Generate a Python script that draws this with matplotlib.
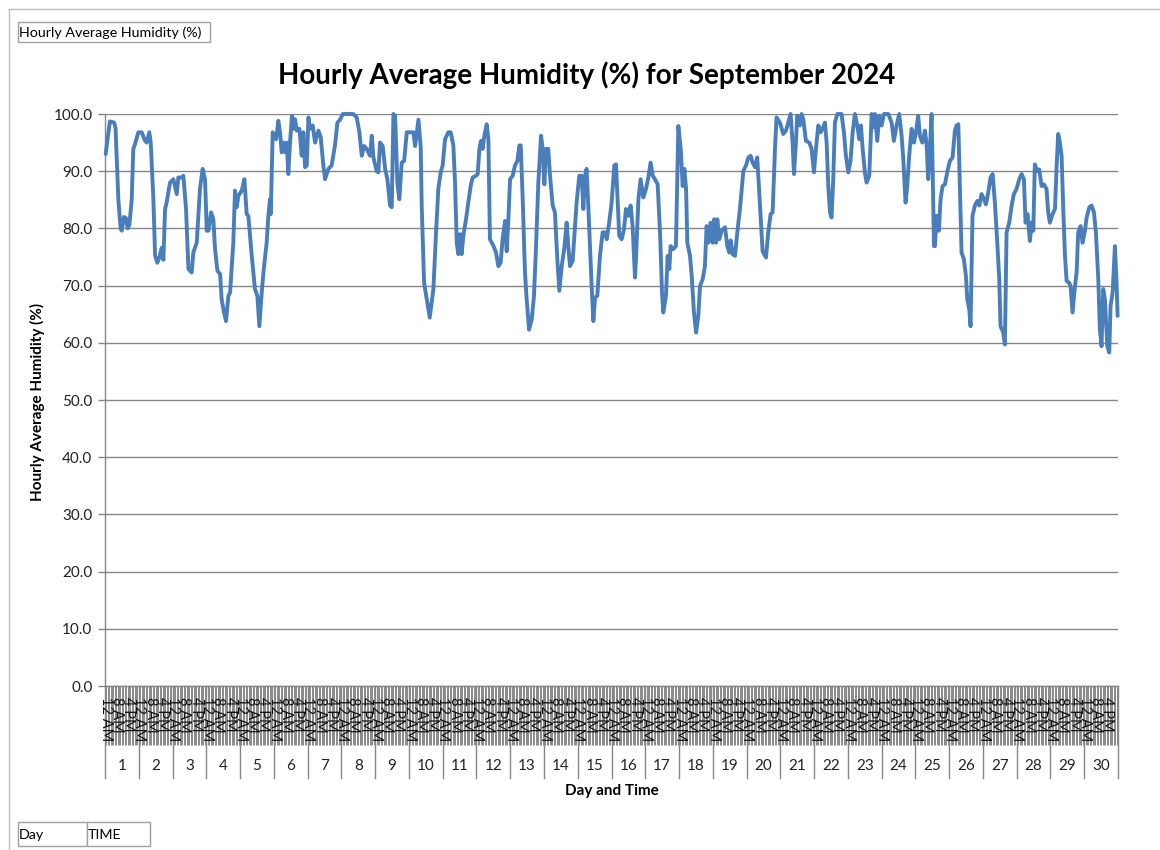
import numpy as np
import matplotlib
matplotlib.use('Agg')
import matplotlib.pyplot as plt
import matplotlib.transforms as mtransforms
from matplotlib.patches import Rectangle
from matplotlib.lines import Line2D

plt.rcParams['font.family'] = ['Lato', 'DejaVu Sans']

# ---------------- data (hour index from 1 Sep 12 AM, humidity %) ----------------
hours_days_01_10 = [0, 1.5, 3, 6, 7, 8.5, 9, 10.6, 11.4, 13, 14.4, 15.6, 16.8, 18.5, 19.6, 20.8, 23.2,
    25.6, 28, 29.1, 31, 32, 33.9, 35.1, 36.7, 38.1, 39.8, 41, 42.2, 43.3, 45.7, 48.1, 50.5, 51.6,
    54, 55.2, 57.1, 58.8, 61.1, 62.3, 64.7, 67, 68.9, 70.6, 71.8, 73, 74.9, 76.5, 77.7, 79.4,
    81.3, 82.4, 84.1, 85.5, 87.2, 88.4, 90.7, 91.9, 93.1, 94.3, 96.7, 98.6, 100.2, 101.4, 103.8,
    106.1, 107.8, 109.2, 110.9, 112.1, 114.4, 115.6, 116.8, 117.3, 118.7, 119.6, 121.1, 122.7,
    123.9, 125.1, 126.3, 127.5, 128.7, 129.8, 131, 132.4, 133.4, 134.6, 135.8, 137.7, 139.3,
    140.5, 141.7, 142.9, 144.1, 145.2, 147.1, 148.8, 151.2, 152.8, 154.7, 155.9, 158.3, 160.6,
    163, 164.7, 166.6, 168.5, 176, 178.4, 180.3, 182, 183.6, 185.5, 187.9, 189.1, 190.3, 192.6,
    193.8, 195, 196.9, 198.6, 200.2, 202.1, 203.3, 204.5, 205.7, 207.3, 208.7, 210.4, 212.1,
    214, 216.3, 218.7, 219.9, 222.3, 223.9, 224.6, 226.3, 228.2, 230.3]
humidity_days_01_10 = [93.0, 96, 98.7, 98.5, 97.5, 88, 85, 80, 79.6, 82, 81.8, 80, 80.6, 85, 93.9, 94.7, 96.8,
    96.8, 95.3, 95, 96.8, 95, 85, 75.2, 74, 74.9, 76.6, 74.5, 83.4, 84.5, 88, 88.6, 86, 88.9,
    88.9, 89.2, 83.4, 72.9, 72.3, 75.8, 77.5, 86.9, 90.4, 88.6, 79.6, 79.6, 82.8, 81.6, 76.4, 72.6,
    72, 67.6, 65.3, 63.8, 68.2, 68.8, 77.5, 86.6, 83.7, 85.7, 86.6, 88.6, 82.5, 82.2, 75.2,
    69.4, 68.2, 62.9, 68.8, 72.3, 77.5, 82.2, 85.1, 82.5, 96.8, 96.2, 95.6, 98.8,
    96.8, 93.3, 95, 93.3, 95, 89.5, 95, 99.7, 97.4, 99.1, 97.1, 97.4, 92.7,
    96.8, 90.7, 91, 99.4, 97.4, 98, 95, 97.1, 96, 91, 88.6, 90.4, 91,
    94.6, 98.5, 99, 100, 100, 99.4, 96.8, 92.7, 94.4, 93.9, 92.7, 96.2, 92.4, 90,
    89.8, 95, 94.4, 90.4, 88.6, 84, 83.7, 100, 99.7, 88, 85.1, 91.5, 91.8,
    96.8, 96.8, 96.8, 94.4, 99, 94.2, 84, 70.5, 67.6, 64.4]

hours_days_11_20 = [232.9, 234.8, 236.4, 238.1, 239.5, 241.2, 243.5, 245.2, 247.1, 248.3, 249.5, 250.6,
    251.8, 253, 254.2, 256.1, 257.7, 259.4, 260.8, 263.2, 264.4, 265.6, 266.7, 267.9, 269.1,
    270.8, 272, 273.1, 275.5, 277.4, 279.1, 280.7, 282.1, 283.8, 285, 286.2, 287.4, 289.3,
    290.9, 292.6, 294, 295, 296.4, 298, 299.2, 300.9, 302.8, 304.4, 305.8, 307.5, 309.4,
    310.6, 311.8, 313, 314.6, 315.8, 317.7, 319.3, 321, 322.4, 324.1, 326, 327.6, 328.8, 330,
    331.9, 333.6, 334.7, 336.6, 338.3, 339.5, 340.7, 341.8, 343, 344.2, 345.4, 346.6, 347.8,
    349.4, 351.3, 353.2, 354.9, 356.1, 358, 359.6, 361.5, 362.7, 363.6, 365, 366.7, 368.4,
    369.8, 371.5, 373.1, 374.5, 376.2, 376.9, 378.6, 380.2, 382.1, 384, 385.7, 387.3, 388.8,
    390.4, 392.3, 394, 395.4, 396.3, 398.2, 399.4, 400.6, 401.5, 403.4, 405.3, 407, 408.7,
    410.1, 411.3, 412.5, 413.4, 415.3, 416.5, 418.1, 419.6, 421.2, 422.4, 424.3, 425.9, 427.1,
    428.3, 429.9, 431.4, 432.4, 433.8, 434.7, 436.1, 437.8, 440.2, 441.8, 443.2, 444.2, 445.6,
    447.3, 448.9, 450.8, 453.2, 455.1, 456.8, 458.4, 459.8, 461.5, 463.1]
humidity_days_11_20 = [69.4, 79.3, 86.9, 89.8, 91, 95.6, 96.8, 96.8, 94.5, 88, 77.5, 75.5,
    79, 75.5, 78.7, 81.6, 84.5, 87.4, 88.9, 89.2, 89.5, 93.9, 95.3, 93.9, 96.2,
    98.2, 95.6, 78.1, 77, 75.8, 73.4, 74, 78.1, 81.3, 76, 81.6, 88.6, 89.2,
    91, 91.8, 94.5, 94.5, 85, 72.3, 67.6, 62.3, 64.1, 68.2, 76.4, 88, 96.2,
    93.9, 87.7, 93.9, 93.9, 89.2, 84, 82.8, 74.6, 69.1, 73.4, 76.6, 81, 76.9, 73.4,
    74.3, 80.4, 84.5, 89.2, 89.2, 83.4, 89.2, 90.4, 84, 76.9, 69.9, 63.8, 67.9,
    68.2, 75.2, 79.3, 79.3, 78.1, 81.3, 84.5, 91, 91.2, 86.3, 78.7, 78.1, 79.9,
    83.4, 82.2, 84, 80.4, 71.4, 74.6, 85, 88.6, 85.4, 86.9, 88.9, 91.5, 89.2,
    88.6, 87.7, 79.3, 68.8, 65.3, 68.2, 75.2, 72.9, 76.9, 76.4, 76.9, 97.9, 93.9,
    87.4, 90.4, 86.9, 77.5, 75.2, 71.7, 65.3, 61.8, 64.7, 69.9, 71.1, 73.4, 80.4,
    77.5, 81, 77.5, 81.6, 77.5, 81.6, 78.1, 79.6, 80.2, 76.9, 75.8, 77.9, 75.5,
    75.2, 79.3, 83.4, 90, 91, 92.4, 92.7, 91.5, 90.7, 92.4]

hours_days_21_30 = [466.9, 469.3, 470.9, 472.6, 474, 475.7, 476.8, 479.2, 481.6, 483.5, 485.1, 486.8,
    488.2, 489.2, 490.6, 491.5, 493.4, 494.6, 495.8, 497.7, 500.1, 501.7, 503.4, 504.8, 506.5,
    508.1, 509.5, 511.2, 512.4, 513.6, 514.8, 515.9, 517.1, 518.3, 520, 523, 524.7, 526.1,
    527.8, 529.4, 530.9, 532.5, 534.2, 535.6, 536.8, 538, 539.6, 540.8, 542.7, 544.4, 545.5,
    546.7, 548.4, 549.8, 551.5, 553.1, 556.2, 558.6, 560.2, 562.1, 564, 565.7, 566.9, 568.5,
    569.7, 571.1, 572.8, 574.5, 575.9, 577.5, 578.7, 580.4, 582.3, 583.5, 584.6, 585.8, 587,
    587.7, 588.7, 589.4, 590.6, 592.2, 593.4, 594.8, 596.5, 598.1, 600, 601.9, 603.6, 604.8,
    606, 607.1, 608.3, 610, 611.4, 612.4, 613.8, 614.7, 616.1, 617.8, 619.5, 620.9, 622.5,
    624.2, 625.6, 627.3, 628.9, 630.4, 632, 633.7, 635.1, 636, 637.9, 639.1, 640.3, 642.2,
    643.9, 645.5, 647.4, 649.3, 651, 652.6, 653.8, 655.2, 656.9, 658.1, 659.3, 660.4, 662.1,
    663.5, 665.2, 666.8, 668.7, 669.9, 671.1, 673, 674.7, 675.9, 677, 678.2, 679.4, 680.6,
    681.8, 683, 684.8, 685.8, 687.2, 688.9, 690.1, 691.2, 692.9, 694.3, 696, 697.2, 699.1,
    700.7, 702.4, 703.8, 705.5, 706.6, 707.8, 709, 710.2, 711.9, 713.3, 714.2, 715.7, 717.3,
    718.5, 719.2]
humidity_days_21_30 = [76, 74.9, 79.3, 82.5, 82.8, 93.9, 99.4, 98.5, 96.5, 97.1, 98.5, 100,
    95, 89.5, 95, 99.7, 98, 100, 99.1, 95.3, 95, 93.9, 89.8, 93.9, 98,
    96.8, 97.4, 98.5, 95, 87.4, 82.8, 81.9, 88.6, 98.5, 100, 100, 96.8, 92.7,
    89.8, 91.8, 96.8, 100, 98, 95.6, 98, 93.9, 89.8, 88, 89.2, 100, 97.7,
    100, 95.3, 99.7, 98, 100, 100, 98.5, 95.3, 98, 100, 96.2, 92.1, 84.5,
    87.4, 92.7, 97.4, 95, 96.8, 99.7, 96.2, 95, 97.1, 94.5, 88.6, 93.9, 100,
    91, 76.9, 76.9, 82.2, 79.6, 85.1, 87.4, 87.7, 89.8, 91.8, 92.4, 97.1, 98,
    98.2, 87.4, 75.8, 74.6, 71.7, 67.6, 65.8, 62.9, 82.2, 84, 84.8, 84, 86,
    85.1, 84.2, 86.3, 88.9, 89.5, 84.5, 77.5, 71.1, 62.9, 61.8, 59.7, 79.3, 81,
    84, 86, 86.9, 88.6, 89.5, 88.6, 81, 82.5, 77.8, 81, 79.6, 91.2, 90,
    90.3, 87.4, 87.7, 86.9, 82.8, 81, 82.5, 83.4, 91, 96.5, 95, 92.7, 83.4,
    75.2, 70.8, 70.5, 69.9, 65.3, 69.9, 72.3, 79.3, 80.4, 77.5, 79.6, 81.9, 83.7,
    84, 82.8, 79.3, 71.1, 62.3, 59.4, 69.4, 67.6, 59.4, 58.3, 66.4, 68.8, 76.9,
    70.5, 64.7]

day_labels = [str(d) for d in range(1, 31)]
hour_tick_labels = ['12 AM', '8 AM', '4 PM']
hour_tick_offsets = [0, 8, 16]
y_ticks = [0, 10, 20, 30, 40, 50, 60, 70, 80, 90, 100]

hours = np.array(hours_days_01_10 + hours_days_11_20 + hours_days_21_30)
humidity = np.array(humidity_days_01_10 + humidity_days_11_20 + humidity_days_21_30)

# ---------------- figure ----------------
W, H = 1160, 850
fig = plt.figure(figsize=(W / 100, H / 100), dpi=100)
fig.patch.set_facecolor('white')


def fx(p):
    return p / W


def fy(p):
    return 1 - p / H


x0, x1, ytop, ybot = 105, 1118, 114, 686
ax = fig.add_axes([fx(x0), fy(ybot), fx(x1) - fx(x0), fy(ytop) - fy(ybot)])

grey = '#868686'
ax.plot(hours, humidity, color='#4A7EBB', lw=2.8, solid_joinstyle='round',
        solid_capstyle='round', clip_on=False, zorder=3)

n_hours = 24 * len(day_labels)
ax.set_xlim(-0.5, n_hours - 0.5)
ax.set_ylim(0, 100)
ax.set_yticks(y_ticks)
ax.set_yticklabels([f'{v:.1f}' for v in y_ticks], fontsize=11, color='#222222')
ax.yaxis.grid(True, color=grey, lw=1)
ax.set_axisbelow(True)
for s in ['top', 'right']:
    ax.spines[s].set_visible(False)
for s in ['left', 'bottom']:
    ax.spines[s].set_color(grey)
    ax.spines[s].set_linewidth(1)
ax.tick_params(axis='y', length=5, color=grey, width=1, pad=4)

ax.set_xticks(np.arange(-0.5, n_hours, 1))
ax.set_xticklabels([])
ax.tick_params(axis='x', length=(745 - 686) * 0.72, width=0.7, color='#8a8a8a', direction='out')

blend = mtransforms.blended_transform_factory(ax.transData, ax.transAxes)
span = ybot - ytop


def ay(py):
    return (ybot - py) / span


for d in range(len(day_labels)):
    for off, lab in zip(hour_tick_offsets, hour_tick_labels):
        ax.text(24 * d + off, ay(697), lab, transform=blend, rotation=270,
                ha='center', va='top', fontsize=10.5, color='#111111', zorder=5, clip_on=False)
    ax.text(24 * d + 11.5, ay(766), day_labels[d], transform=blend, ha='center', va='center',
            fontsize=11, color='#222222')

for k in range(len(day_labels) + 1):
    ax.add_line(Line2D([24 * k - 0.5] * 2, [0, ay(778)], transform=blend, color=grey,
                       lw=1, clip_on=False))

fig.text(fx(587), fy(75), 'Hourly Average Humidity (%) for September 2024', ha='center',
         va='center', fontsize=20, fontweight='bold', color='black')
fig.text(fx(612), fy(791), 'Day and Time', ha='center', va='center', fontsize=11,
         fontweight='bold', color='black')
fig.text(fx(37), fy(402), 'Hourly Average Humidity (%)', ha='center', va='center',
         rotation=90, fontsize=11, fontweight='bold', color='black')

# chart area border (left and top)
fig.add_artist(Line2D([fx(9), fx(9)], [fy(9), 0], transform=fig.transFigure, color='#BFBFBF', lw=1))
fig.add_artist(Line2D([fx(9), 1], [fy(9), fy(9)], transform=fig.transFigure, color='#BFBFBF', lw=1))

# field buttons
def field_box(xa, xb, ya, yb, text):
    fig.add_artist(Rectangle((fx(xa), fy(yb)), fx(xb) - fx(xa), fy(ya) - fy(yb),
                             transform=fig.transFigure, facecolor='white', edgecolor='#A0A0A0', lw=1))
    fig.text(fx(xa + 1), fy((ya + yb) / 2 + 1), text, ha='left', va='center', fontsize=10.3, color='black')


field_box(18, 210, 22, 42, 'Hourly Average Humidity (%)')
field_box(18, 87, 822, 846, 'Day')
field_box(87, 150, 822, 846, 'TIME')

fig.savefig('out.png', dpi=100)
